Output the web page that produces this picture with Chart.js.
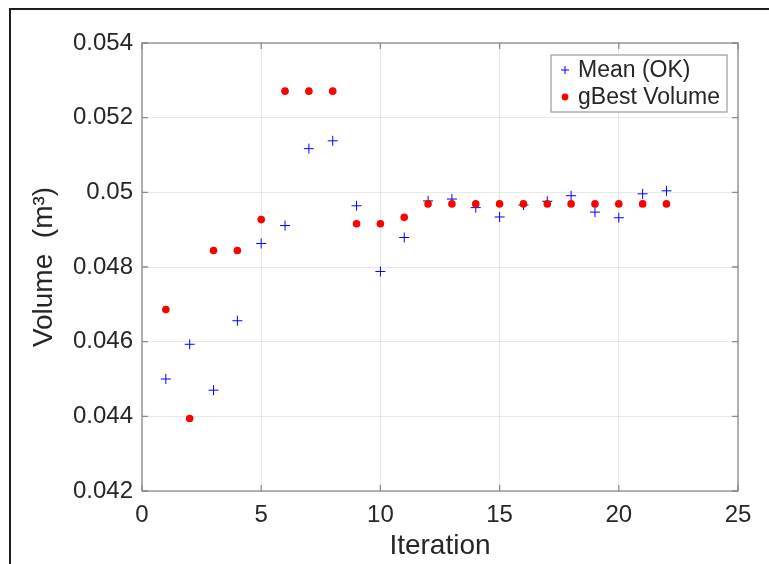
<!DOCTYPE html>
<html>
<head>
<meta charset="utf-8">
<script src="https://cdn.jsdelivr.net/npm/chart.js@4.4.1/dist/chart.umd.min.js"></script>
<style>
  html, body { margin: 0; padding: 0; background: #fff; }
  #frame {
    position: absolute; left: 9px; top: 8px; width: 800px; height: 600px;
    border-top: 2px solid #1e1e1e; border-left: 2px solid #1e1e1e;
  }
  #chartBox { position: absolute; left: 0; top: 0; width: 769px; height: 564px; }
</style>
</head>
<body>
<div id="frame"></div>
<div id="chartBox"><canvas id="graphicFirst" width="769" height="564"></canvas></div>
<script>
// Volume vs iteration (scatter)

const iterations = [1, 2, 3, 4, 5, 6, 7, 8, 9, 10, 11, 12, 13, 14, 15, 16, 17, 18, 19, 20, 21, 22];
const meanOK = [0.04500, 0.04593, 0.04470, 0.04656, 0.04863, 0.04911, 0.05117, 0.05138, 0.04964, 0.04788, 0.04879,
  0.04977, 0.04982, 0.04959, 0.04934, 0.04966, 0.04976, 0.04991, 0.04947, 0.04932, 0.04996, 0.05004];
const gBestVolume = [0.04686, 0.04394, 0.04844, 0.04844, 0.04927, 0.05271, 0.05271, 0.05271, 0.04916, 0.04916, 0.04933,
  0.04969, 0.04969, 0.04969, 0.04969, 0.04969, 0.04969, 0.04969, 0.04969, 0.04969, 0.04969, 0.04969];
const seriesLabels = ['Mean (OK)', 'gBest Volume'];
const xTitle = 'Iteration';
const yTitle = 'Volume  (m\u00B3)';

const FONT = "'Liberation Sans', Arial, Helvetica, sans-serif";
const TXT = '#262626';
const AXIS = '#8a8a8a';

function toPoints(xs, ys){
  return xs.map((x, i) => ({x: x, y: ys[i]}));
}

//-----BOX, INNER TICKS AND LEGEND
const boxPlugin = {
  id: 'matlabBox',
  afterDraw(chart){
    const ctx = chart.ctx;
    const a = chart.chartArea;
    const xs = chart.scales.x;
    const ys = chart.scales.y;
    const tl = 6;
    ctx.save();
    ctx.strokeStyle = AXIS;
    ctx.lineWidth = 1.3;
    ctx.strokeRect(a.left, a.top, a.right - a.left, a.bottom - a.top);
    ctx.beginPath();
    xs.ticks.forEach(t => {
      const px = xs.getPixelForValue(t.value);
      ctx.moveTo(px, a.bottom); ctx.lineTo(px, a.bottom - tl);
      ctx.moveTo(px, a.top); ctx.lineTo(px, a.top + tl);
    });
    ys.ticks.forEach(t => {
      const py = ys.getPixelForValue(t.value);
      ctx.moveTo(a.left, py); ctx.lineTo(a.left + tl, py);
      ctx.moveTo(a.right, py); ctx.lineTo(a.right - tl, py);
    });
    ctx.stroke();

    // legend
    const lx = a.right - 187, ly = a.top + 12, lw = 176, lh = 57;
    ctx.fillStyle = '#fff';
    ctx.fillRect(lx, ly, lw, lh);
    ctx.strokeStyle = '#9a9a9a';
    ctx.lineWidth = 1.2;
    ctx.strokeRect(lx, ly, lw, lh);
    ctx.font = '23px ' + FONT;
    ctx.textBaseline = 'middle';
    ctx.textAlign = 'left';
    chart.data.datasets.forEach((ds, i) => {
      const cy = ly + 15 + i * 27;
      ctx.fillStyle = ds.pointBackgroundColor;
      ctx.strokeStyle = ds.pointBorderColor;
      ctx.lineWidth = 1;
      if (ds.pointStyle === 'cross') {
        ctx.beginPath();
        ctx.moveTo(lx + 10, cy); ctx.lineTo(lx + 18, cy);
        ctx.moveTo(lx + 14, cy - 4); ctx.lineTo(lx + 14, cy + 4);
        ctx.stroke();
      } else {
        ctx.beginPath();
        ctx.arc(lx + 14, cy, 3.4, 0, Math.PI * 2);
        ctx.fill();
      }
      ctx.fillStyle = TXT;
      ctx.fillText(ds.label, lx + 27, cy + 1);
    });
    ctx.restore();
  }
};

let chart1;
function getDrawGraphicFirst(){
  const ctx = document.getElementById('graphicFirst').getContext('2d');
  if (chart1) {
    chart1.destroy();
  }
  chart1 = new Chart(ctx, {
    type: 'scatter',
    data: {
      datasets: [
        {
          label: seriesLabels[0],
          data: toPoints(iterations, meanOK),
          pointStyle: 'cross',
          pointRadius: 5,
          pointBorderWidth: 1,
          pointBorderColor: '#0000ff',
          pointBackgroundColor: '#0000ff',
          order: 1,
        },
        {
          label: seriesLabels[1],
          data: toPoints(iterations, gBestVolume),
          pointStyle: 'circle',
          pointRadius: 3.8,
          pointBorderWidth: 0,
          pointBorderColor: '#ff0000',
          pointBackgroundColor: '#ff0000',
          order: 0,
        },
      ]
    },
    options: {
      responsive: false,
      animation: false,
      devicePixelRatio: 1,
      layout: { padding: { left: 0, top: 43, right: 31, bottom: 0 } },
      plugins: { legend: { display: false }, tooltip: { enabled: false } },
      scales: {
        x: {
          type: 'linear',
          min: 0, max: 25,
          afterFit: s => { s.height = 73; },
          ticks: { stepSize: 5, padding: 10, color: TXT, font: { family: FONT, size: 24 } },
          grid: { color: 'rgba(38,38,38,0.1)', drawTicks: false },
          border: { display: false },
          title: { display: true, text: xTitle, color: TXT, font: { family: FONT, size: 28 }, padding: { bottom: 1 } },
        },
        y: {
          type: 'linear',
          min: 0.042, max: 0.054,
          afterFit: s => { s.width = 142; },
          ticks: {
            stepSize: 0.002, padding: 9, color: TXT, font: { family: FONT, size: 24 },
            callback: v => String(+v.toFixed(3))
          },
          grid: { color: 'rgba(38,38,38,0.1)', drawTicks: false },
          border: { display: false },
          title: { display: true, text: yTitle, color: TXT, font: { family: FONT, size: 28 }, padding: { top: 27 } },
        }
      }
    },
    plugins: [boxPlugin]
  });
}

getDrawGraphicFirst();
</script>
</body>
</html>
